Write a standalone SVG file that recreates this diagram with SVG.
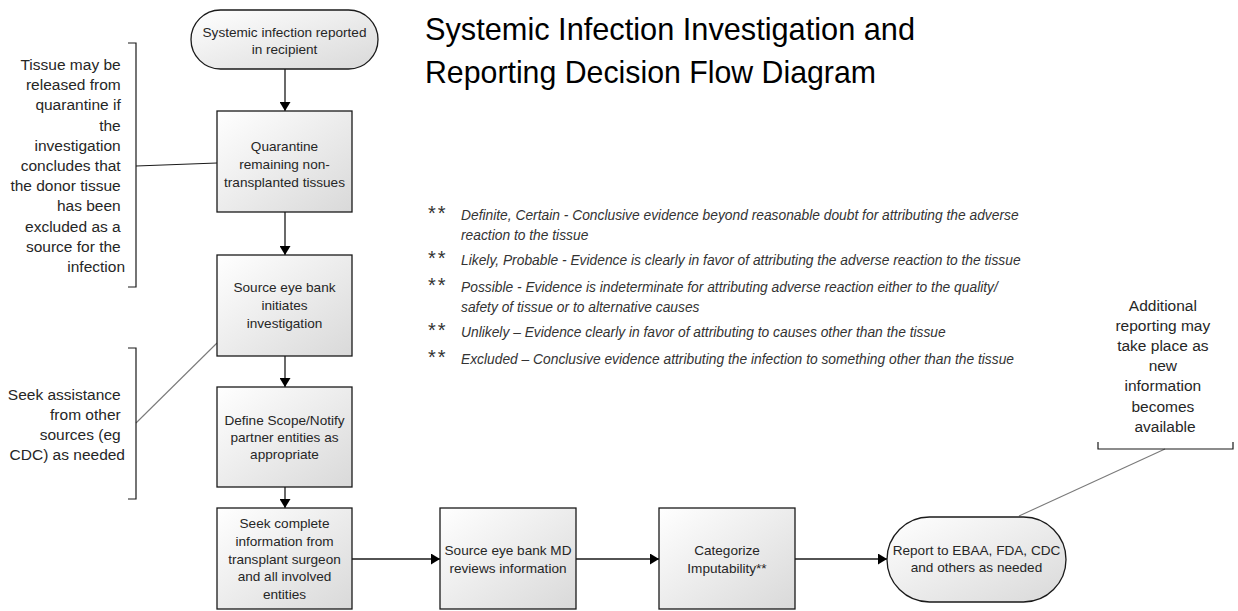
<svg xmlns="http://www.w3.org/2000/svg" width="1238" height="611" viewBox="0 0 1238 611">
<style>
.node{stroke:#1a1a1a;stroke-width:1.3;fill:url(#grad)}
.nt{font-family:"Liberation Sans",Arial,sans-serif;font-size:13.6px;fill:#262626;text-anchor:middle}
.ann{font-family:"Liberation Sans",Arial,sans-serif;font-size:15.5px;fill:#262626}
.leg{font-family:"Liberation Sans",Arial,sans-serif;font-size:13.8px;font-style:italic;fill:#333}
.star{font-family:"Liberation Sans",Arial,sans-serif;font-size:20px;fill:#333;letter-spacing:2px}
.title{font-family:"Liberation Sans",Arial,sans-serif;font-size:32px;fill:#000}
.conn{stroke:#1a1a1a;stroke-width:1.3;fill:none}
.brk{stroke:#1a1a1a;stroke-width:1.2;fill:none}
.diag{stroke:#7a7a7a;stroke-width:1.1;fill:none}
</style>
<defs>
<linearGradient id="grad" x1="0" y1="0" x2="1" y2="1">
<stop offset="0" stop-color="#ffffff"/>
<stop offset="1" stop-color="#d9d9d9"/>
</linearGradient>
<marker id="arr" markerUnits="userSpaceOnUse" markerWidth="9" markerHeight="11" refX="9" refY="5.5" orient="auto">
<path d="M0,0 L9,5.5 L0,11 z" fill="#000"/>
</marker>
</defs>
<rect width="1238" height="611" fill="#fff"/>

<g id="title">
<text class="title" x="425" y="40" textLength="490" lengthAdjust="spacingAndGlyphs">Systemic Infection Investigation and</text>
<text class="title" x="425" y="83" textLength="451" lengthAdjust="spacingAndGlyphs">Reporting Decision Flow Diagram</text>
</g>

<g id="connectors">
<line class="conn" x1="285" y1="69" x2="285" y2="111" marker-end="url(#arr)"/>
<line class="conn" x1="285" y1="212" x2="285" y2="255" marker-end="url(#arr)"/>
<line class="conn" x1="285" y1="356" x2="285" y2="387" marker-end="url(#arr)"/>
<line class="conn" x1="285" y1="487" x2="285" y2="508" marker-end="url(#arr)"/>
<line class="conn" x1="352" y1="559" x2="440" y2="559" marker-end="url(#arr)"/>
<line class="conn" x1="576" y1="559" x2="659" y2="559" marker-end="url(#arr)"/>
<line class="conn" x1="795" y1="559" x2="887" y2="559" marker-end="url(#arr)"/>
<line class="brk" x1="136" y1="166" x2="217" y2="163"/>
<line class="diag" x1="136" y1="423" x2="217" y2="343"/>
<line class="diag" x1="1165" y1="449" x2="1019" y2="516"/>
</g>

<g id="n1">
<rect class="node" x="191" y="10" width="187" height="59" rx="29.5" ry="29.5"/>
<text class="nt" x="284.5" y="36.7">Systemic infection reported</text>
<text class="nt" x="284.5" y="53.7">in recipient</text>
</g>
<g id="n2">
<rect class="node" x="217" y="111" width="135" height="101"/>
<text class="nt" x="284.5" y="150.7">Quarantine</text>
<text class="nt" x="284.5" y="168.7">remaining non-</text>
<text class="nt" x="284.5" y="186.7">transplanted tissues</text>
</g>
<g id="n3">
<rect class="node" x="217" y="255" width="135" height="101"/>
<text class="nt" x="284.5" y="291.7">Source eye bank</text>
<text class="nt" x="284.5" y="309.7">initiates</text>
<text class="nt" x="284.5" y="327.7">investigation</text>
</g>
<g id="n4">
<rect class="node" x="217" y="387" width="135" height="100"/>
<text class="nt" x="284.5" y="424.7">Define Scope/Notify</text>
<text class="nt" x="284.5" y="441.7">partner entities as</text>
<text class="nt" x="284.5" y="458.7">appropriate</text>
</g>
<g id="n5">
<rect class="node" x="217" y="508" width="135" height="101"/>
<text class="nt" x="284.5" y="527.7">Seek complete</text>
<text class="nt" x="284.5" y="545.7">information from</text>
<text class="nt" x="284.5" y="563.7">transplant surgeon</text>
<text class="nt" x="284.5" y="580.7">and all involved</text>
<text class="nt" x="284.5" y="598.7">entities</text>
</g>
<g id="n6">
<rect class="node" x="440" y="508" width="136" height="101"/>
<text class="nt" x="508" y="554.7">Source eye bank MD</text>
<text class="nt" x="508" y="572.7">reviews information</text>
</g>
<g id="n7">
<rect class="node" x="659" y="508" width="136" height="101"/>
<text class="nt" x="727" y="554.7">Categorize</text>
<text class="nt" x="727" y="572.7">Imputability**</text>
</g>
<g id="n8">
<rect class="node" x="887" y="517" width="179" height="85" rx="42.5" ry="42.5"/>
<text class="nt" x="976.5" y="554.7">Report to EBAA, FDA, CDC</text>
<text class="nt" x="976.5" y="571.7">and others as needed</text>
</g>

<g id="note-quarantine">
<path class="brk" d="M128,43 H136 V287 H128"/>
<text class="ann" text-anchor="end" x="125">
<tspan x="125" y="70">Tissue may be</tspan>
<tspan x="125" y="90.2">released from</tspan>
<tspan x="125" y="110.4">quarantine if</tspan>
<tspan x="125" y="130.6">the</tspan>
<tspan x="125" y="150.8">investigation</tspan>
<tspan x="125" y="171">concludes that</tspan>
<tspan x="125" y="191.2">the donor tissue</tspan>
<tspan x="125" y="211.4">has been</tspan>
<tspan x="125" y="231.6">excluded as a</tspan>
<tspan x="125" y="251.8">source for the</tspan>
<tspan x="125" y="272">infection</tspan>
</text>
</g>

<g id="note-assistance">
<path class="brk" d="M128,348 H136 V499 H128"/>
<text class="ann" text-anchor="end" x="125">
<tspan x="125" y="399.5">Seek assistance</tspan>
<tspan x="125" y="419.5">from other</tspan>
<tspan x="125" y="439.5">sources (eg</tspan>
<tspan x="125" y="459.5">CDC) as needed</tspan>
</text>
</g>

<g id="note-additional">
<path class="brk" d="M1098,442 V449 H1233 V442"/>
<text class="ann" text-anchor="middle" x="1165">
<tspan x="1165" y="310.5">Additional</tspan>
<tspan x="1165" y="330.7">reporting may</tspan>
<tspan x="1165" y="350.9">take place as</tspan>
<tspan x="1165" y="371.1">new</tspan>
<tspan x="1165" y="391.3">information</tspan>
<tspan x="1165" y="411.5">becomes</tspan>
<tspan x="1165" y="431.7">available</tspan>
</text>
</g>

<g id="legend">
<text class="star" x="428" y="220">**</text>
<text class="leg" x="461" y="220">Definite, Certain - Conclusive evidence beyond reasonable doubt for attributing the adverse</text>
<text class="leg" x="461" y="240">reaction to the tissue</text>
<text class="star" x="428" y="265">**</text>
<text class="leg" x="461" y="265">Likely, Probable - Evidence is clearly in favor of attributing the adverse reaction to the tissue</text>
<text class="star" x="428" y="292">**</text>
<text class="leg" x="461" y="292">Possible - Evidence is indeterminate for attributing adverse reaction either to the quality/</text>
<text class="leg" x="461" y="312">safety of tissue or to alternative causes</text>
<text class="star" x="428" y="337">**</text>
<text class="leg" x="461" y="337">Unlikely – Evidence clearly in favor of attributing to causes other than the tissue</text>
<text class="star" x="428" y="364">**</text>
<text class="leg" x="461" y="364">Excluded – Conclusive evidence attributing the infection to something other than the tissue</text>
</g>
</svg>
